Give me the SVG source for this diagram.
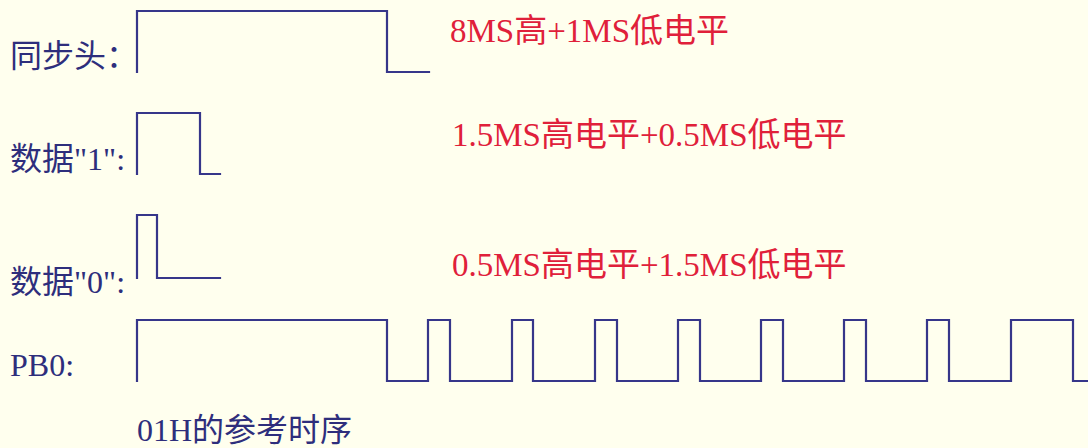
<svg xmlns="http://www.w3.org/2000/svg" width="1088" height="448" viewBox="0 0 1088 448">
<style>
  .bg{fill:#ffffee}
  .wave{fill:none;stroke:#36368a;stroke-width:2.2;stroke-linejoin:miter;stroke-linecap:square}
  .lbl{font-family:"Liberation Serif","Noto Sans CJK SC",serif;font-size:32px;fill:#2e2e7c}
  .note{font-family:"Liberation Serif","Noto Sans CJK SC",serif;font-size:33px;fill:#e0203a}
</style>
<rect class="bg" x="0" y="0" width="1088" height="448"/>
<g id="sync">
  <text class="lbl" x="10" y="67">同步头：</text>
  <path class="wave" d="M137,72 V11 H387 V72 H429"/>
  <text class="note" x="450" y="42">8MS高+1MS低电平</text>
</g>
<g id="data1">
  <text class="lbl" x="10" y="170">数据"1":</text>
  <path class="wave" d="M137,174 V113 H200 V174 H220"/>
  <text class="note" x="452" y="146">1.5MS高电平+0.5MS低电平</text>
</g>
<g id="data0">
  <text class="lbl" x="10" y="293">数据"0":</text>
  <path class="wave" d="M137,278 V215 H157 V278 H220"/>
  <text class="note" x="452" y="276">0.5MS高电平+1.5MS低电平</text>
</g>
<g id="pb0">
  <text class="lbl" x="10" y="376">PB0:</text>
  <path class="wave" d="M137,381 V320 H387 V381 H428 V320 H450 V381 H512 V320 H533 V381 H595 V320 H617 V381 H678 V320 H700 V381 H761 V320 H783 V381 H844 V320 H866 V381 H927 V320 H949 V381 H1011 V320 H1073 V381 H1088"/>
</g>
<g id="caption">
  <text class="lbl" x="137" y="441">01H的参考时序</text>
</g>
<g id="connectors"></g>
</svg>
